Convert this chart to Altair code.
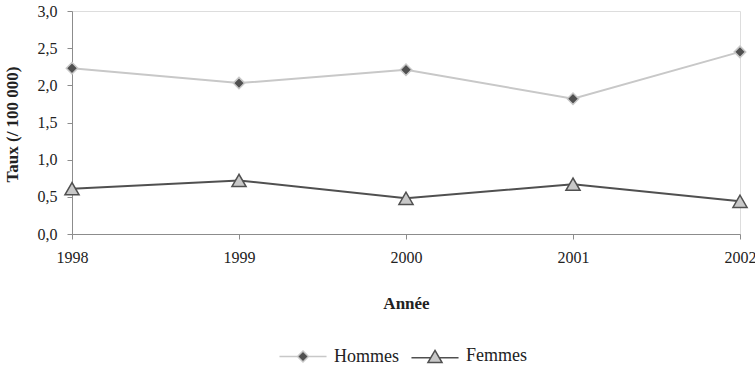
import altair as alt
import pandas as pd

years = ["1998", "1999", "2000", "2001", "2002"]
series = ["Hommes", "Femmes"]
hommes = [2.23, 2.03, 2.21, 1.82, 2.45]
femmes = [0.61, 0.72, 0.48, 0.67, 0.44]
y_ticks = [0.0, 0.5, 1.0, 1.5, 2.0, 2.5, 3.0]

rows = []
for i, yr in enumerate(years):
    rows.append({"Année": yr, "Série": "Hommes", "Taux": hommes[i]})
    rows.append({"Année": yr, "Série": "Femmes", "Taux": femmes[i]})
df = pd.DataFrame(rows)

DARK = "#505050"
LIGHT = "#c8c8c8"
AXIS = "#8c8c8c"
TEXT = "#222222"
FONT = "'Times New Roman', Times, 'Liberation Serif', serif"

# legend symbols: line through marker (unit coords in [-1,1] scaled by size)
path_h = "M-2.14,0L-0.5,0M0.5,0L2.14,0M0,-0.5L0.5,0L0,0.5L-0.5,0Z"
path_f = "M-2.14,0.12L-0.4,0.12M0.4,0.12L2.14,0.12M0,-0.55L0.64,0.55L-0.64,0.55Z"

x_enc = alt.X(
    "Année:O",
    scale=alt.Scale(type="point", padding=0),
    axis=alt.Axis(
        title="Année", labelAngle=0, domainColor=AXIS, tickColor=AXIS,
        tickSize=5, labelPadding=10, labelFont=FONT, labelFontSize=16,
        labelColor=TEXT, titleFont=FONT, titleFontSize=17, titleFontWeight="bold",
        titleColor=TEXT, titleBaseline="middle", titleY=69, grid=False,
    ),
)
y_enc = alt.Y(
    "Taux:Q",
    scale=alt.Scale(domain=[0, 3], nice=False),
    axis=alt.Axis(
        title="Taux (/ 100 000)", values=y_ticks,
        labelExpr="replace(format(datum.value, '.1f'), '.', ',')",
        domainColor=AXIS, tickColor=AXIS, tickSize=5, labelPadding=10,
        labelFont=FONT, labelFontSize=16, labelColor=TEXT,
        titleFont=FONT, titleFontSize=17, titleFontWeight="bold", titleColor=TEXT,
        titleBaseline="middle", titleX=-60, titleY=113, titleAngle=-90, grid=False,
    ),
)

stroke_scale = alt.Scale(domain=series, range=[LIGHT, DARK])
fill_scale = alt.Scale(domain=series, range=[DARK, LIGHT])

base = alt.Chart(df)

lines = base.mark_line(strokeWidth=2).encode(
    x=x_enc, y=y_enc,
    stroke=alt.Stroke("Série:N", scale=stroke_scale, legend=None),
    detail="Série:N",
)

points = base.mark_point(filled=True, strokeWidth=1.5, opacity=1).encode(
    x=x_enc, y=y_enc,
    shape=alt.Shape("Série:N", scale=alt.Scale(domain=series, range=["diamond", "triangle-up"]), legend=None),
    fill=alt.Fill("Série:N", scale=fill_scale, legend=None),
    stroke=alt.Stroke("Série:N", scale=stroke_scale, legend=None),
    size=alt.Size("Série:N", scale=alt.Scale(domain=series, range=[130, 200]), legend=None),
)

leg = alt.Legend(
    title=None, orient="none", legendX=219, legendY=333, direction="horizontal",
    symbolSize=484, symbolStrokeWidth=1.5, labelOffset=19, columnPadding=9,
    labelFont=FONT, labelFontSize=18, labelColor=TEXT, padding=0,
)

legend_layer = base.mark_point(filled=True, strokeWidth=1.5, opacity=1).transform_filter(
    "datum.Taux < 0"
).encode(
    shape=alt.Shape("Série:N", scale=alt.Scale(domain=series, range=[path_h, path_f]), legend=leg),
    fill=alt.Fill("Série:N", scale=fill_scale, legend=leg),
    stroke=alt.Stroke("Série:N", scale=stroke_scale, legend=leg),
)

chart = alt.layer(lines, points, legend_layer).resolve_scale(
    shape="independent", fill="independent", stroke="independent", size="independent"
).properties(
    width=668, height=223,
    autosize=alt.AutoSizeParams(type="none"),
    padding={"left": 72, "top": 11, "right": 15, "bottom": 139},
).configure_view(stroke=None).configure(background="white")

chart.save("out.html", embed_options={"renderer": "svg", "actions": False})
